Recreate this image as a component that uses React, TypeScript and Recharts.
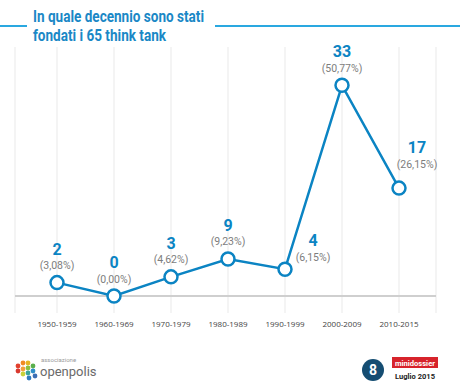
import { LineChart, Line, XAxis, YAxis, CartesianGrid, ReferenceLine, LabelList } from "recharts";

// decades on the x axis
const decades = ["1950-1959", "1960-1969", "1970-1979", "1980-1989", "1990-1999", "2000-2009", "2010-2015"];
// number of think tanks founded (label text)
const counts = ["2", "0", "3", "9", "4", "33", "17"];
// share of the 65 think tanks
const shares = ["(3,08%)", "(0,00%)", "(4,62%)", "(9,23%)", "(6,15%)", "(50,77%)", "(26,15%)"];
// marker heights as drawn in the original (the 1980s marker sits lower than its label)
const plotted = [2.1, 0, 3, 5.8, 4.2, 33, 16.9];

const BLUE = "#0b84c3";
const TITLE_BLUE = "#1a88c6";

const data = decades.map((d, i) => ({ decade: d, value: plotted[i], idx: i }));

// labels for these points sit to the right of the marker
const sideLabels: Record<number, { dx: number; dy: number }> = {
  4: { dx: 28, dy: 5 },
  6: { dx: 18, dy: -7 },
};

function PointLabel(props: any) {
  const { x, y, index } = props;
  const side = sideLabels[index];
  const cx = x + (side ? side.dx : 0);
  const base = y + (side ? side.dy : 0);
  return (
    <g>
      <text x={cx} y={base - 28} textAnchor="middle" fill={BLUE} fontSize={16} fontWeight={700} fontFamily="Roboto, 'Noto Sans', sans-serif">
        {counts[index]}
      </text>
      <text x={cx} y={base - 13.5} textAnchor="middle" fill="#7d7d7d" fontSize={10.5} fontFamily="Roboto, 'Noto Sans', sans-serif">
        {shares[index]}
      </text>
    </g>
  );
}

function Logo() {
  const dots = [
    { x: 18, y: 366, c: "#e2412e" },
    { x: 23, y: 363, c: "#f08a24" },
    { x: 28, y: 363, c: "#e6b422" },
    { x: 18, y: 371, c: "#d9392f" },
    { x: 23, y: 369, c: "#f2a03a" },
    { x: 28, y: 368, c: "#8cbf3f" },
    { x: 33, y: 366, c: "#5aaf4b" },
    { x: 23, y: 374, c: "#c7d13c" },
    { x: 28, y: 373, c: "#3aa59b" },
    { x: 33, y: 371, c: "#2f8fc9" },
    { x: 29, y: 378, c: "#2e7bbf" },
    { x: 35, y: 376, c: "#3c6fb4" },
  ];
  return (
    <g>
      {dots.map((d, i) => (
        <circle key={i} cx={d.x} cy={d.y} r={2.4} fill={d.c} />
      ))}
      <text x={41} y={362} fontSize={6} fill="#9a9a9a" fontFamily="Roboto, sans-serif">associazione</text>
      <text x={40} y={376} fontSize={13} fill="#6a6a6a" fontFamily="Roboto, sans-serif">openpolis</text>
    </g>
  );
}

export default function App() {
  return (
    <div style={{ position: "absolute", left: 0, top: 0, width: 460, height: 389, background: "#fff", overflow: "hidden" }}>
      <LineChart width={460} height={389} data={data} margin={{ top: 47, right: 24, left: 15, bottom: 56 }}>
        <CartesianGrid horizontal={false} stroke="#e9e9e9" strokeWidth={1} />
        <XAxis
          dataKey="decade"
          axisLine={false}
          tickLine={false}
          height={20}
          padding={{ left: 42, right: 37 }}
          interval={0}
          tick={{ fontSize: 8, fill: "#444", fontFamily: "'Open Sans', sans-serif" }}
        />
        <YAxis hide type="number" domain={[-2.66, 39]} allowDataOverflow />
        <ReferenceLine y={0} stroke="#cfcfcf" strokeWidth={2} />
        <Line
          type="linear"
          dataKey="value"
          stroke={BLUE}
          strokeWidth={2.5}
          dot={{ r: 6.5, fill: "#fff", stroke: BLUE, strokeWidth: 2.5 }}
          isAnimationActive={false}
        >
          <LabelList dataKey="value" content={<PointLabel />} />
        </Line>
      </LineChart>
      <svg width={460} height={389} style={{ position: "absolute", left: 0, top: 0, pointerEvents: "none" }}>
        <rect x={0} y={25} width={27} height={2} fill="#2aa8e0" />
        <rect x={215} y={25} width={245} height={2} fill="#2aa8e0" />
        <text x={33} y={22} textLength={171} lengthAdjust="spacingAndGlyphs" fontSize={16.5} fontWeight={700} fill={TITLE_BLUE} fontFamily="Roboto, sans-serif">
          In quale decennio sono stati
        </text>
        <text x={33} y={41} textLength={133} lengthAdjust="spacingAndGlyphs" fontSize={16.5} fontWeight={700} fill={TITLE_BLUE} fontFamily="Roboto, sans-serif">
          fondati i 65 think tank
        </text>
        <Logo />
        <circle cx={373} cy={370} r={11} fill="#154d72" />
        <text x={373} y={375} textAnchor="middle" fontSize={14} fontWeight={700} fill="#fff" fontFamily="Roboto, sans-serif">8</text>
        <rect x={392} y={357} width={46} height={11} fill="#d7232b" />
        <text x={415} y={365.5} textAnchor="middle" textLength={40} lengthAdjust="spacingAndGlyphs" fontSize={8} fontWeight={700} fill="#fff" fontFamily="Roboto, sans-serif">minidossier</text>
        <text x={415} y={379} textAnchor="middle" textLength={40} lengthAdjust="spacingAndGlyphs" fontSize={8} fontWeight={700} fill="#222" fontFamily="Roboto, sans-serif">Luglio 2015</text>
      </svg>
    </div>
  );
}
